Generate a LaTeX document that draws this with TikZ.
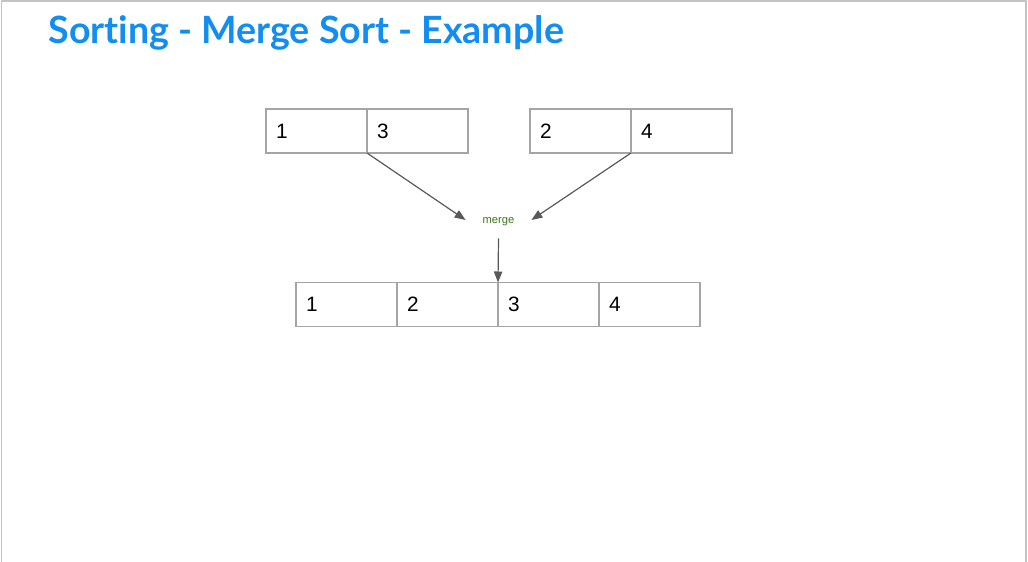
\documentclass[tikz,border=0pt]{standalone}
\usepackage{fontspec}
\setmainfont{Liberation Sans}
\newfontfamily\titlefont[Ligatures={NoCommon,NoDiscretionary,NoRare}]{Lato}
\usetikzlibrary{positioning,arrows.meta}

\definecolor{titleblue}{RGB}{18,141,240}
\definecolor{cellgray}{RGB}{165,165,165}
\definecolor{framegray}{RGB}{195,195,195}
\definecolor{arrowgray}{RGB}{89,89,89}
\definecolor{mergegreen}{RGB}{56,118,29}

\begin{document}
\begin{tikzpicture}[x=0.5pt,y=-0.5pt,
	cell/.style={draw=cellgray,line width=0.6pt,outer sep=0pt,inner xsep=5pt,text width=40.5pt,
		minimum height=22pt,align=left,font=\fontsize{10.4}{12}\selectfont},
	mergebox/.style={minimum width=32.5pt,minimum height=18pt,inner sep=0pt,
		text height=3pt,text depth=0pt,
		text=mergegreen,font=\fontsize{5.6}{6.5}\selectfont},
	link/.style={draw=arrowgray,line width=0.6pt,-{Triangle[length=5.5pt,width=4.2pt]}}]
	\useasboundingbox (0,0) rectangle (1028,562);
	
	%frame round the slide
	\draw[framegray,line width=0.7pt] (1.5,562)--(1.5,1)--(1026,1)--(1026,562);
	
	%title
	\node[anchor=base west,inner sep=0pt,text=titleblue,
		font=\titlefont\bfseries\fontsize{18.8}{22}\selectfont] (title) at (48,43)
		{Sorting - Merge Sort - Example};
	
	%the two sorted halves
	\node[cell,anchor=west] (l1) at (266,131) {1};
	\node[cell,right=0pt of l1] (l3) {3};
	\node[cell,anchor=west] (r2) at (530,131) {2};
	\node[cell,right=0pt of r2] (r4) {4};
	
	%merge step
	\node[mergebox] (merge) at (498.5,220) {merge};
	
	%merged result
	\node[cell,anchor=west] (m1) at (296,304.5) {1};
	\node[cell,right=0pt of m1] (m2) {2};
	\node[cell,right=0pt of m2] (m3) {3};
	\node[cell,right=0pt of m3] (m4) {4};
	
	%putting arrows:
	\draw[link] (l3.south west) -- (merge.west);
	\draw[link] (r4.south west) -- (merge.east);
	\draw[link] (merge.south) -- (m3.north west);
	
\end{tikzpicture}
\end{document}
